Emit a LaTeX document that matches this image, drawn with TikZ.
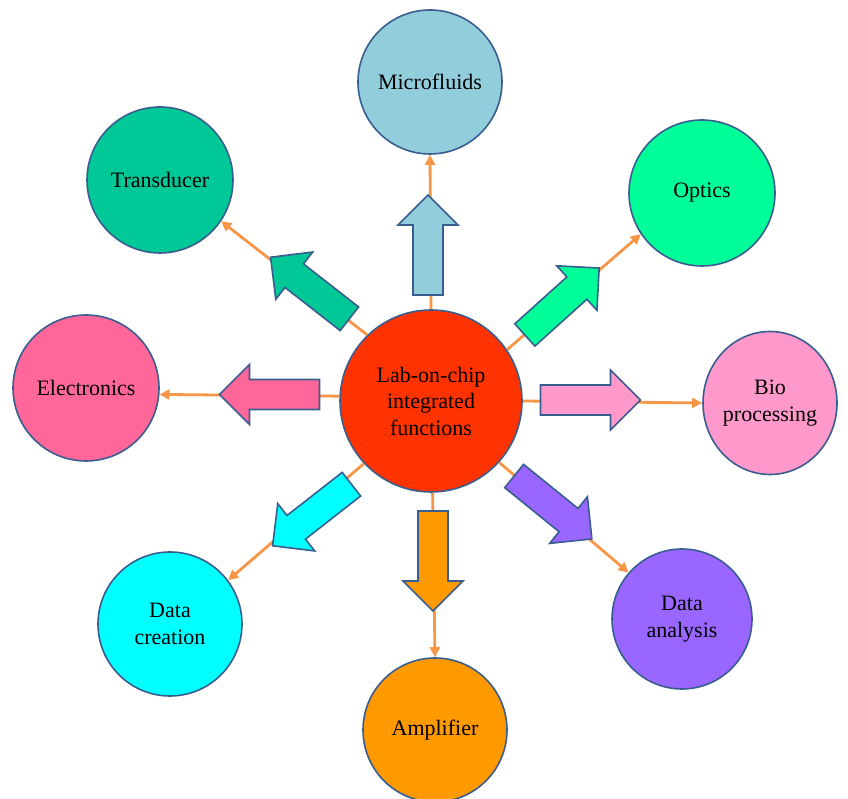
\documentclass[tikz,border=0pt]{standalone}
\usepackage{fontspec}
\setmainfont{Liberation Serif}
\usetikzlibrary{arrows.meta,shapes.geometric}
\definecolor{edgec}{HTML}{3A5D8F}
\definecolor{linkc}{HTML}{F79646}
\definecolor{cred}{HTML}{FF3300}
\definecolor{cmicro}{HTML}{92CDDC}
\definecolor{ctrans}{HTML}{00C896}
\definecolor{coptic}{HTML}{00FF99}
\definecolor{celec}{HTML}{FF6699}
\definecolor{cbio}{HTML}{FF99CC}
\definecolor{cdatac}{HTML}{00FFFF}
\definecolor{campl}{HTML}{FF9900}
\definecolor{cdataa}{HTML}{9966FF}
\tikzset{
  pics/blockarrow/.style={code={
    \draw[barrow, fill=#1] (-50,-15) -- (20,-15) -- (20,-30) -- (50,0) -- (20,30) -- (20,15) -- (-50,15) -- cycle;}}
}
\begin{document}
\begin{tikzpicture}[x=1pt,y=1pt,
  bubble/.style={circle, draw=edgec, line width=1.6pt, inner sep=0pt, align=center,
                 font=\fontsize{22}{26.5}\selectfont},
  link/.style={draw=linkc, line width=2.8pt, -{Triangle[length=10pt,width=10pt]}},
  barrow/.style={draw=edgec, line width=1.6pt, line join=miter}
]
\useasboundingbox (0,0) rectangle (848,799);
% circles
\node[bubble, fill=cred, minimum size=182pt] (C) at (431,398) {Lab-on-chip\\integrated\\functions};
\node[bubble, fill=cmicro, minimum size=144pt] (M) at (430,717) {Microfluids};
\node[bubble, fill=ctrans, minimum size=146pt] (T) at (160,619) {Transducer};
\node[bubble, fill=coptic, minimum size=146pt] (O) at (702,606) {Optics};
\node[bubble, fill=celec, minimum size=146pt] (E) at (86,411) {Electronics};
\node[bubble, ellipse, fill=cbio, minimum width=134pt, minimum height=143pt] (B) at (770,396) {Bio\\processing};
\node[bubble, fill=cdatac, minimum size=144pt] (D) at (170,175) {Data\\creation};
\node[bubble, fill=campl, minimum size=144pt] (A) at (435,69) {Amplifier};
\node[bubble, fill=cdataa, minimum size=140pt] (DA) at (682,180) {Data\\analysis};
% thin orange connectors
\draw[link] (C.90) -- (M.-90);
\draw[link] (C.134) -- (T.-34);
\draw[link] (C.34.6) -- (O.214);
\draw[link] (C.177) -- (E.-5.5);
\draw[link] (C.0) -- (B.180);
\draw[link] (C.-89) -- (A.90);
\draw[link] (C.-42) -- (DA.139);
\draw[link] (C.223) -- (D.37);
% block arrows
\pic[rotate=90] at (428,554) {blockarrow=cmicro};
\pic[rotate=142] at (310,511) {blockarrow=ctrans};
\pic[rotate=42] at (562,497.5) {blockarrow=coptic};
\pic[rotate=180] at (269.5,404.5) {blockarrow=celec};
\pic[rotate=0] at (590.5,399) {blockarrow=cbio};
\pic[rotate=-90] at (433,238) {blockarrow=campl};
\pic[rotate=-39] at (553,291.5) {blockarrow=cdataa};
\pic[rotate=218] at (312,284) {blockarrow=cdatac};
\end{tikzpicture}
\end{document}
